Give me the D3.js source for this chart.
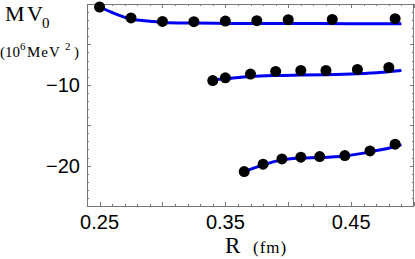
<!DOCTYPE html>
<html><head><meta charset="utf-8">
<script src="https://cdn.jsdelivr.net/npm/d3@7"></script>
<style>body{margin:0;background:#fff}svg{display:block}</style>
</head><body>
<script>
// ---- data ----
const r1 = [0.25, 0.275, 0.30, 0.325, 0.35, 0.375, 0.40, 0.435, 0.485];
const v1 = [-0.37, -1.73, -2.16, -2.19, -2.11, -2.07, -1.95, -1.91, -1.82];
const r2 = [0.34, 0.35, 0.37, 0.39, 0.41, 0.43, 0.455, 0.48];
const v2 = [-9.47, -9.13, -8.67, -8.35, -8.23, -8.23, -8.10, -7.86];
const r3 = [0.365, 0.38, 0.395, 0.41, 0.425, 0.445, 0.465, 0.485];
const v3 = [-20.74, -19.83, -19.17, -18.96, -18.88, -18.76, -18.18, -17.35];

const fitR1 = [0.25, 0.26, 0.275, 0.29, 0.30, 0.325, 0.35, 0.40, 0.45, 0.49];
const fitV1 = [-0.37, -1.05, -1.86, -2.13, -2.28, -2.36, -2.40, -2.42, -2.43, -2.44];
const fitR2 = [0.343, 0.35, 0.37, 0.39, 0.41, 0.43, 0.455, 0.475, 0.49];
const fitV2 = [-9.35, -9.25, -8.97, -8.85, -8.80, -8.76, -8.64, -8.45, -8.23];
const fitR3 = [0.365, 0.38, 0.395, 0.41, 0.425, 0.445, 0.465, 0.485, 0.49];
const fitV3 = [-20.74, -19.91, -19.29, -19.08, -19.01, -18.80, -18.30, -17.64, -17.40];

const xTickLabels = [0.25, 0.35, 0.45];
const yTickLabels = [-10, -20];

// ---- layout ----
const W = 415, H = 259;
const L = 87, R = 414, T = 4, B = 206;
const x = d3.scaleLinear().domain([0.24, 0.50]).range([L, R]);
const y = d3.scaleLinear().domain([-25, 0]).range([B, T]);

const svg = d3.select("body").append("svg").attr("width", W).attr("height", H);
const frameCol = "#777";

// ticks (inward, all four sides)
const xMinor = d3.range(24, 51).map(d => d / 100);
const yMinor = d3.range(-25, 1);
const g = svg.append("g").attr("stroke", frameCol).attr("stroke-width", 1).attr("shape-rendering", "crispEdges");
xMinor.forEach(v => {
  const major = Math.round(v * 100) % 5 === 0;
  const len = major ? 4 : 2;
  const px = Math.round(x(v)) + 0.5;
  g.append("line").attr("x1", px).attr("x2", px).attr("y1", B).attr("y2", B - len);
  g.append("line").attr("x1", px).attr("x2", px).attr("y1", T).attr("y2", T + len);
});
yMinor.forEach(v => {
  const major = v % 5 === 0;
  const len = major ? 4 : 2;
  const py = Math.round(y(v)) + 0.5;
  g.append("line").attr("x1", L).attr("x2", L + len).attr("y1", py).attr("y2", py);
  g.append("line").attr("x1", R).attr("x2", R - len).attr("y1", py).attr("y2", py);
});
// frame
svg.append("rect").attr("x", L + 0.5).attr("y", T + 0.5).attr("width", R - L - 1).attr("height", B - T)
  .attr("fill", "none").attr("stroke", frameCol).attr("stroke-width", 1);

// tick labels
svg.append("g").selectAll("text").data(xTickLabels).join("text")
  .attr("x", d => x(d)).attr("y", 229).attr("text-anchor", "middle")
  .attr("font-family", "Liberation Sans, Arial, sans-serif").attr("font-size", 20)
  .text(d => d.toFixed(2));
svg.append("g").selectAll("text").data(yTickLabels).join("text")
  .attr("x", 80).attr("y", d => y(d) + 7).attr("text-anchor", "end")
  .attr("font-family", "Liberation Sans, Arial, sans-serif").attr("font-size", 20)
  .text(d => "\u2212" + Math.abs(d));

// curves
const line = d3.line().x(d => x(d[0])).y(d => y(d[1])).curve(d3.curveMonotoneX);
[[fitR1, fitV1], [fitR2, fitV2], [fitR3, fitV3]].forEach(([rs, vs]) => {
  svg.append("path").datum(rs.map((r, i) => [r, vs[i]])).attr("d", line)
    .attr("fill", "none").attr("stroke", "#0000f0").attr("stroke-width", 3);
});
// points
[[r1, v1], [r2, v2], [r3, v3]].forEach(([rs, vs]) => {
  svg.append("g").selectAll("circle").data(rs.map((r, i) => [r, vs[i]])).join("circle")
    .attr("cx", d => x(d[0])).attr("cy", d => y(d[1])).attr("r", 5.5).attr("fill", "#000");
});

// axis labels
const serif = "Liberation Serif, Times New Roman, serif";
const yl = svg.append("g").attr("font-family", serif);
yl.append("text").attr("x", 5).attr("y", 21).attr("font-size", 22).text("M");
yl.append("text").attr("x", 27).attr("y", 21).attr("font-size", 22).text("V");
yl.append("text").attr("x", 42).attr("y", 28).attr("font-size", 15).text("0");
yl.append("text").attr("x", 0).attr("y", 57).attr("font-size", 15).text("(10");
yl.append("text").attr("x", 20).attr("y", 50).attr("font-size", 11).text("6");
yl.append("text").attr("x", 27).attr("y", 57).attr("font-size", 15).attr("letter-spacing", 1).text("MeV");
yl.append("text").attr("x", 65).attr("y", 50).attr("font-size", 11).text("2");
yl.append("text").attr("x", 74).attr("y", 57).attr("font-size", 15).text(")");

const xl = svg.append("g").attr("font-family", serif);
xl.append("text").attr("x", 225).attr("y", 253).attr("font-size", 23).text("R");
xl.append("text").attr("x", 253).attr("y", 253).attr("font-size", 17).attr("letter-spacing", 1).text("(fm)");
</script>
</body></html>
